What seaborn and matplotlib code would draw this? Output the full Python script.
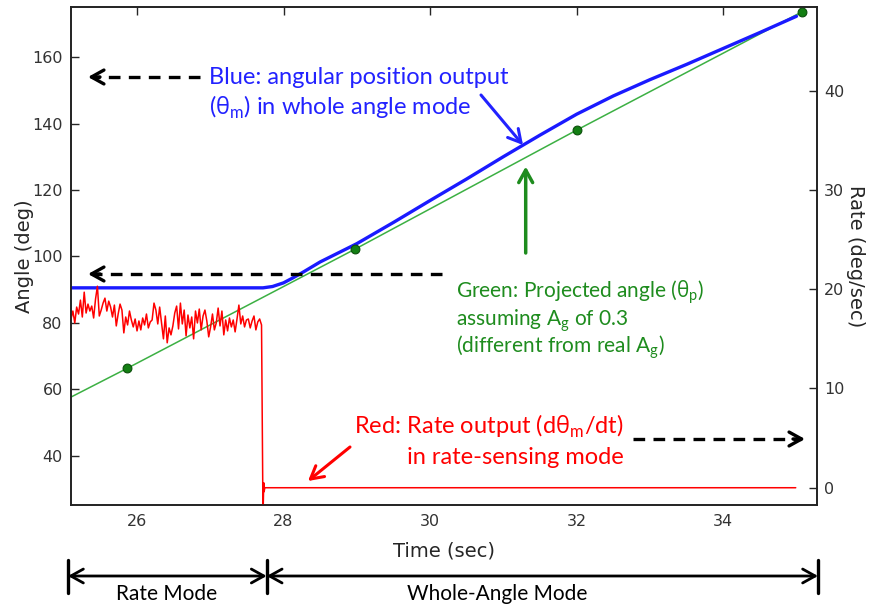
import numpy as np
import matplotlib
matplotlib.use("Agg")
import matplotlib.pyplot as plt
import seaborn as sns
from matplotlib.patches import FancyArrowPatch
from matplotlib.lines import Line2D

# ---- data ----
# red: rate output (deg/sec) while in rate-sensing mode, 25.10 s .. 27.70 s
rate_noise = [
    17.0, 17.8, 16.6, 18.2, 17.5, 18.9, 17.2, 19.7,
    17.6, 18.5, 17.8, 18.3, 17.1, 19.0, 20.3, 17.3,
    17.9, 18.6, 19.1, 17.8, 18.8, 18.2, 17.2, 18.4,
    16.3, 17.5, 18.5, 17.9, 15.6, 17.2, 16.4, 17.8,
    16.9, 16.2, 17.0, 15.8, 16.8, 15.9, 17.1, 16.4,
    17.5, 16.1, 16.7, 16.9, 18.6, 17.9, 16.5, 18.2,
    16.6, 15.0, 17.3, 14.6, 16.1, 15.4, 16.3, 17.6,
    18.3, 16.0, 18.6, 16.5, 17.9, 15.3, 17.4, 16.1,
    17.2, 15.0, 17.8, 16.6, 18.0, 15.9, 17.3, 17.9,
    16.8, 15.2, 16.2, 17.5, 15.9, 16.6, 18.1, 16.3,
    17.8, 15.4, 16.9, 15.8, 17.1, 16.2, 16.9, 15.7,
    17.0, 18.4, 16.5, 17.3, 16.2, 16.9, 17.0, 16.1,
    16.8, 17.3, 15.9, 16.7, 17.0, 16.4,
]
rate_noise_t = np.linspace(25.10, 27.70, len(rate_noise))
# switch to whole-angle mode: rate output drops to zero
rate_zero_t = [27.72, 27.73, 27.735, 27.745, 34.99]
rate_zero = [-3.0, 0.5, -0.4, 0.0, 0.0]

# blue: measured angle in whole-angle mode (deg)
blue_t = [25.10, 27.72, 27.85, 28.00, 28.12, 28.25, 28.50, 29.00, 29.50, 30.00,
          30.50, 31.00, 31.50, 32.00, 32.50, 33.00, 33.50, 34.00, 34.50, 35.00]
blue_angle = [90.5, 90.5, 90.9, 92.0, 93.4, 95.0, 98.3, 103.8, 110.2, 116.8,
              123.3, 130.0, 136.5, 142.8, 148.3, 153.2, 157.8, 162.6, 167.4, 172.3]

# green: projected angle assuming Ag = 0.3 (deg)
proj_t = [25.10, 25.87, 28.98, 32.00, 35.08]
proj_angle = [57.6, 66.3, 102.2, 138.0, 173.7]

x_ticks = [26, 28, 30, 32, 34]
angle_ticks = [40, 60, 80, 100, 120, 140, 160]
rate_ticks = [0, 10, 20, 30, 40]

W, H = 872, 606


def fxy(x, y):
    # image pixel (from top-left) -> figure fraction
    return x / W, 1 - y / H


sns.set_style("white")
plt.rcParams["font.family"] = ["DejaVu Sans"]
plt.rcParams["mathtext.fontset"] = "custom"
plt.rcParams["mathtext.rm"] = "Open Sans"

fig = plt.figure(figsize=(W / 100, H / 100), dpi=100)
ax = fig.add_axes([71 / W, 1 - 505.3 / H, (817 - 71) / W, (505.3 - 7.3) / H])
ax2 = ax.twinx()

sns.lineplot(x=proj_t, y=proj_angle, ax=ax, color="#3cb043", lw=1.1,
             estimator=None, sort=False)
sns.lineplot(x=blue_t, y=blue_angle, ax=ax, color="#1a1aff", lw=2.4,
             estimator=None, sort=False)
sns.scatterplot(x=proj_t[1:], y=proj_angle[1:], ax=ax, color="#137f13",
                edgecolor="#0b4f0b", s=40, linewidth=0.8, zorder=5, clip_on=False)

red_t = np.concatenate([rate_noise_t, rate_zero_t])
red_v = list(rate_noise) + rate_zero
sns.lineplot(x=red_t, y=red_v, ax=ax2, color="red", lw=1.1,
             estimator=None, sort=False)

ax.set_xlim(25.10, 35.28)
ax.set_ylim(25, 175)
ax2.set_ylim(-1.77, 48.4)
ax.set_xticks(x_ticks)
ax.set_yticks(angle_ticks)
ax2.set_yticks(rate_ticks)

ax.set_xlabel("Time (sec)", fontsize=14, labelpad=9)
ax.set_ylabel("Angle (deg)", fontsize=14, labelpad=-1)
ax2.set_ylabel("Rate (deg/sec)", fontsize=14, rotation=270, labelpad=15)

for a in (ax, ax2):
    for s in a.spines.values():
        s.set_color("#222222")
        s.set_linewidth(1.2)
ax.tick_params(axis="x", direction="in", length=6, width=1, top=True,
               labelsize=11.5, labelcolor="#333333", pad=6)
ax.tick_params(axis="y", direction="in", length=6, width=1, right=False,
               labelsize=11.5, labelcolor="#333333", pad=6)
ax2.tick_params(axis="y", direction="in", length=6, width=1, left=False,
                labelsize=11.5, labelcolor="#333333", pad=5)

# ---- annotations ----
big = dict(family=["Lato"], size=17)
mid = dict(family=["Lato"], size=15)
blue_c, green_c, red_c = "#2222ff", "#1e8c1e", "#ff0000"

fig.text(*fxy(209, 83.5), "Blue: angular position output", color=blue_c, **big)
fig.text(*fxy(209, 114.5), r"($\mathrm{\theta}_\mathregular{m}$) in whole angle mode",
         color=blue_c, **big)
fig.text(*fxy(456, 297), r"Green: Projected angle ($\mathrm{\theta}_\mathregular{p}$)",
         color=green_c, **mid)
fig.text(*fxy(456, 325), r"assuming A$_\mathregular{g}$ of 0.3", color=green_c, **mid)
fig.text(*fxy(456, 352), r"(different from real A$_\mathregular{g}$)",
         color=green_c, **mid)
fig.text(*fxy(624, 434), r"Red: Rate output (d$\mathrm{\theta}_\mathregular{m}$/dt)",
         color=red_c, ha="right", **big)
fig.text(*fxy(624, 464), "in rate-sensing mode", color=red_c, ha="right", **big)


def arrow(p0, p1, color, lw=2.0, style="->,head_length=0.45,head_width=0.25"):
    fig.add_artist(FancyArrowPatch(fxy(*p0), fxy(*p1), transform=fig.transFigure,
                                   arrowstyle=style, mutation_scale=20, lw=lw,
                                   color=color, shrinkA=0, shrinkB=0))


def dashed_arrow(x0, x1, y):
    d = np.sign(x1 - x0)
    fig.add_artist(Line2D([x0 / W, (x1 - d * 4) / W], [1 - y / H] * 2,
                          color="black", lw=2.4, dashes=(3.5, 2.5)))
    arrow((x1 - d * 12, y), (x1, y), "black", lw=2.4)


dashed_arrow(200, 88, 77)
dashed_arrow(442, 88, 274)
dashed_arrow(633, 805, 439)

arrow((481, 95), (523, 145), blue_c, lw=2.2)
arrow((525.7, 253), (525.7, 166.5), green_c, lw=2.5)
arrow((350, 447), (308, 481), red_c, lw=2.2)

# mode brackets under the axis
for bx in (68, 266.7, 818):
    fig.add_artist(Line2D([bx / W] * 2, [1 - 560 / H, 1 - 593 / H],
                          color="black", lw=2.4))
arrow((68, 576), (266.7, 576), "black", lw=2.0,
      style="<->,head_length=0.45,head_width=0.25")
arrow((266.7, 576), (818, 576), "black", lw=2.0,
      style="<->,head_length=0.45,head_width=0.25")
fig.text(*fxy(167, 600), "Rate Mode", color="black", ha="center", **mid)
fig.text(*fxy(497, 600), "Whole-Angle Mode", color="black", ha="center", **mid)

fig.savefig("out.png", dpi=100)
